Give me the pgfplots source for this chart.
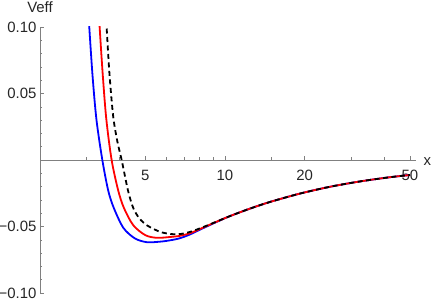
\documentclass[border=0pt]{standalone}
\usepackage{fontspec}
\setmainfont{Liberation Sans}
\usepackage{pgfplots}
\pgfplotsset{compat=1.18}
\begin{document}
\begin{tikzpicture}
\begin{axis}[
  scale only axis, width=376bp, height=266bp,
  at={(0,0)}, anchor=south west,
  xmode=log, xmin=2, xmax=52.7, ymin=-0.1, ymax=0.1,
  axis x line=middle, axis y line=left,
  axis line style={-, gray, line width=0.6bp},
  xtick={5,10,20,50}, xticklabels={5,10,20,50},
  minor xtick={3,4,6,7,8,9,15,30,40},
  ytick={-0.1,-0.05,0.05,0.1}, yticklabels={−0.10,−0.05,0.05,0.10},
  minor ytick={-0.09,-0.08,-0.07,-0.06,-0.04,-0.03,-0.02,-0.01,0.01,0.02,0.03,0.04,0.06,0.07,0.08,0.09},
  tick style={gray, line width=0.5bp},
  major tick length=4bp, minor tick length=2.5bp,
  tick align=inside,
  tick label style={font=\fontsize{15}{17}\selectfont, text=black!85},
  xticklabel style={yshift=-7bp},
  xlabel={x}, ylabel={Veff},
  every axis x label/.style={at={(axis cs:52.7,0)}, anchor=west, xshift=4bp, yshift=-2bp, font=\fontsize{15}{17}\selectfont, text=black!85},
  every axis y label/.style={at={(axis description cs:0,1)}, anchor=base, yshift=14bp, font=\fontsize{15}{17}\selectfont, text=black!85},
]
\addplot[blue, line width=1.8bp, smooth] coordinates {
(3.03,0.118) (3.07,0.100) (3.16,0.063) (3.27,0.030) (3.44,0.000) (3.62,-0.0229) (3.80,-0.036) (4.13,-0.051) (4.57,-0.0590) (5.07,-0.0618) (5.68,-0.0614) (6.20,-0.0604) (6.76,-0.0588) (7.37,-0.0560) (8.04,-0.0524) (9.17,-0.0471)
(10.45,-0.04215) (12.43,-0.03655) (14.79,-0.03155) (19.2,-0.02525) (24.9,-0.02015) (32.4,-0.0161) (42.0,-0.01295) (50.0,-0.0113)
};
\addplot[red, line width=1.8bp, smooth] coordinates {
(3.32,0.118) (3.36,0.100) (3.45,0.065) (3.56,0.031) (3.73,0.000) (3.95,-0.0229) (4.15,-0.036) (4.50,-0.049) (5.0,-0.0565) (5.52,-0.0585) (6.20,-0.0579) (6.76,-0.0570) (7.37,-0.0551) (8.04,-0.0519) (9.17,-0.0469)
(10.45,-0.04215) (12.43,-0.03655) (14.79,-0.03155) (19.2,-0.02525) (24.9,-0.02015) (32.4,-0.0161) (42.0,-0.01295) (50.0,-0.0113)
};
\addplot[black, line width=1.8bp, smooth, dash pattern=on 5bp off 3.5bp] coordinates {
(3.53,0.118) (3.57,0.100) (3.66,0.065) (3.78,0.033) (3.92,0.014) (4.07,0.000) (4.30,-0.0229) (4.50,-0.036) (4.75,-0.044) (5.06,-0.049) (5.21,-0.0505) (5.68,-0.0540) (6.20,-0.0556) (6.76,-0.0557) (7.37,-0.0541) (8.04,-0.0514) (9.17,-0.0468)
(10.45,-0.04215) (12.43,-0.03655) (14.79,-0.03155) (19.2,-0.02525) (24.9,-0.02015) (32.4,-0.0161) (42.0,-0.01295) (50.0,-0.0113)
};
\end{axis}
\pgfresetboundingbox
\path[use as bounding box] (-40bp,-7bp) rectangle (396bp,293bp);
\end{tikzpicture}
\end{document}
